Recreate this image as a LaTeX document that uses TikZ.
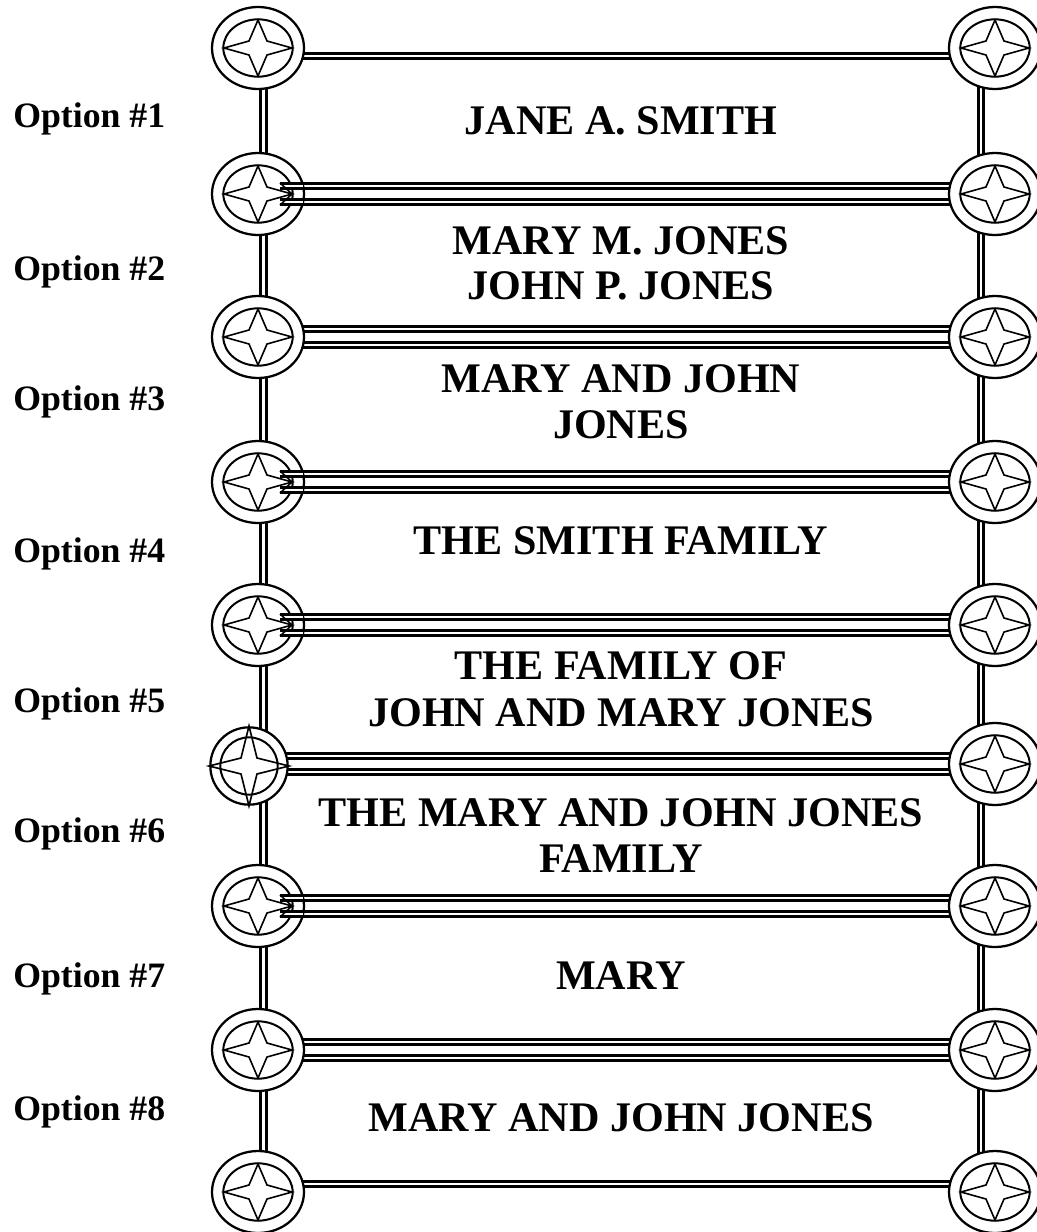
\documentclass[tikz,border=0pt]{standalone}
\usepackage{fontspec}
\setmainfont{Liberation Serif}
\usetikzlibrary{shapes.geometric,calc}
\tikzset{
  rail/.style={line width=2.2pt, double=white, double distance=1.9pt},
  outerring/.style={ellipse, draw, fill=white, line width=1.7pt, inner sep=0pt,
    minimum width=69pt, minimum height=61.5pt},
  roundring/.style={circle, draw, fill=white, line width=1.7pt, inner sep=0pt,
    minimum size=58pt},
  ringline/.style={line width=1.5pt},
  starline/.style={line width=1.2pt, line join=miter},
  optlabel/.style={anchor=base west, inner sep=0pt, font=\fontsize{26.8}{32}\selectfont\bfseries},
  mainlabel/.style={anchor=base, inner sep=0pt, font=\fontsize{31.6}{36}\selectfont\bfseries},
}
\newcommand\rosette[3]{%
  \node[outerring] (#1) at (#2,#3) {};
  \begin{scope}[shift={(#2,#3)}]
    \draw[ringline] (0,0) ellipse [x radius=26pt, y radius=21.5pt];
    \draw[starline] (34,0) -- (9,7) -- (0,28) -- (-9,7) -- (-34,0) -- (-9,-7) -- (0,-28) -- (9,-7) -- cycle;
  \end{scope}}
\newcommand\railstub[1]{%
  \draw[rail] ($(#1.center)+(22,-8)$) -- ($(#1.center)+(45,-8)$);
  \draw[rail] ($(#1.center)+(22,8)$) -- ($(#1.center)+(45,8)$);
  \draw[starline] ($(#1.center)+(22,-11)$) -- ($(#1.center)+(34,0)$) -- ($(#1.center)+(22,11)$);}
\begin{document}
\begin{tikzpicture}[x=0.75pt,y=-0.75pt]
\useasboundingbox (0,0) rectangle (1036,1232);
% centres of the rosettes
\foreach \k/\c in {1/48,2/194,3/337,4/482,5/625,6/764,7/906,8/1050,9/1192}{
  \coordinate (L\k) at (258,\c);
  \coordinate (R\k) at (995,\c);
}
% vertical rails
\foreach \k/\n in {1/2,2/3,3/4,4/5,5/6,6/7,7/8,8/9}{
  \draw[rail] ($(L\k)+(5.5,0)$) -- ($(L\n)+(5.5,0)$);
  \draw[rail] ($(R\k)+(-14,0)$) -- ($(R\n)+(-14,0)$);
}
% horizontal rails
\foreach \k in {1,...,8}{
  \draw[rail] ($(L\k)+(0,8)$) -- ($(R\k)+(0,8)$);
}
\foreach \k in {2,...,9}{
  \draw[rail] ($(L\k)+(0,-8)$) -- ($(R\k)+(0,-8)$);
}
% rosettes
\rosette{LR1}{258}{48}
\rosette{LR2}{258}{194}
\rosette{LR3}{258}{337}
\rosette{LR4}{258}{482}
\rosette{LR5}{258}{625}
% special round rosette
\node[roundring] (LR6) at (249,766) {};
\begin{scope}[shift={(249,766)}]
  \draw[ringline] (0,0) circle [radius=21.5pt];
  \draw[starline] (40,0) -- (8,-8) -- (0,-40) -- (-8,-8) -- (-40,0) -- (-8,8) -- (0,40) -- (8,8) -- cycle;
\end{scope}
\rosette{LR7}{258}{906}
\rosette{LR8}{258}{1050}
\rosette{LR9}{258}{1192}
\rosette{RR1}{995}{48}
\rosette{RR2}{995}{194}
\rosette{RR3}{995}{337}
\rosette{RR4}{995}{482}
\rosette{RR5}{995}{625}
\rosette{RR6}{995}{764}
\rosette{RR7}{995}{906}
\rosette{RR8}{995}{1050}
\rosette{RR9}{995}{1192}
% rail ends showing inside some left rosettes
\railstub{LR2}
\railstub{LR4}
\railstub{LR5}
\railstub{LR7}
% option labels
\node[optlabel] (o1) at (13,127) {Option \#1};
\node[optlabel] (o2) at (13,280) {Option \#2};
\node[optlabel] (o3) at (13,410) {Option \#3};
\node[optlabel] (o4) at (13,562) {Option \#4};
\node[optlabel] (o5) at (13,712) {Option \#5};
\node[optlabel] (o6) at (13,842) {Option \#6};
\node[optlabel] (o7) at (13,987) {Option \#7};
\node[optlabel] (o8) at (13,1120) {Option \#8};
% main texts
\node[mainlabel] (t1) at (621,134) {JANE A. SMITH};
\node[mainlabel] (t2a) at (621,254) {MARY M. JONES};
\node[mainlabel] (t2b) at (621,299) {JOHN P. JONES};
\node[mainlabel] (t3a) at (621,392) {MARY AND JOHN};
\node[mainlabel] (t3b) at (621,438) {JONES};
\node[mainlabel] (t4) at (621,554) {THE SMITH FAMILY};
\node[mainlabel] (t5a) at (621,679) {THE FAMILY OF};
\node[mainlabel] (t5b) at (621,726) {JOHN AND MARY JONES};
\node[mainlabel] (t6a) at (621,826) {THE MARY AND JOHN JONES};
\node[mainlabel] (t6b) at (621,872) {FAMILY};
\node[mainlabel] (t7) at (621,989) {MARY};
\node[mainlabel] (t8) at (621,1131) {MARY AND JOHN JONES};
\end{tikzpicture}
\end{document}
